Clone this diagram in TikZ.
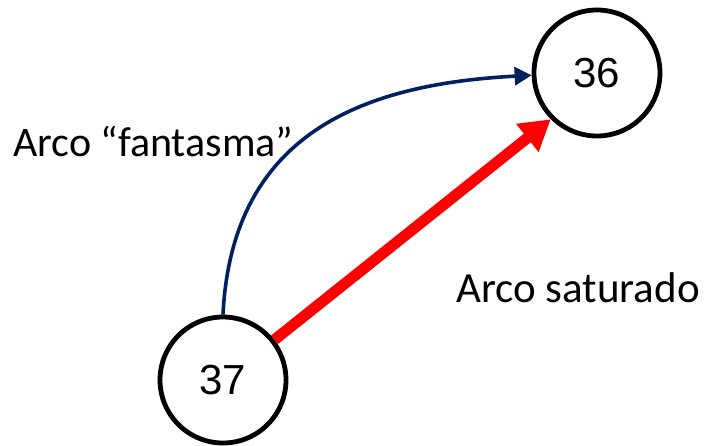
\documentclass[tikz,border=0pt]{standalone}
\usepackage{fontspec}
\setmainfont{Carlito}
\newfontfamily\digitfont{Liberation Sans}
\usetikzlibrary{arrows.meta}
\definecolor{arcblue}{HTML}{002060}
\definecolor{arcred}{HTML}{FF0000}
\begin{document}
\begin{tikzpicture}[x=1pt,y=-1pt,
  vertex/.style={circle,draw=black,line width=4.8pt,minimum size=126pt,inner sep=0pt,fill=white,
    font=\digitfont\fontsize{42}{48}\selectfont},
  ghostarc/.style={draw=arcblue,line width=3.6pt,-{Triangle[length=17pt,width=18pt]}},
  satarc/.style={draw=arcred,line width=11pt,-{Triangle[length=30pt,width=34pt]}},
  lbl/.style={anchor=base west,inner sep=0pt}]
\useasboundingbox (0,0) rectangle (705,445);
\node[vertex] (n36) at (597,73) {36};
\node[vertex] (n37) at (223,380) {37};
\draw[ghostarc] (n37.north) .. controls (232,132) and (365,84) .. (n36.182);
\draw[satarc] (n37.38) -- (n36.225);
\node[lbl,font=\fontsize{42}{50}\selectfont] (lf) at (13,156) {Arco “fantasma”};
\node[lbl,font=\fontsize{43}{50}\selectfont] (ls) at (456,302) {Arco saturado};
\end{tikzpicture}
\end{document}
